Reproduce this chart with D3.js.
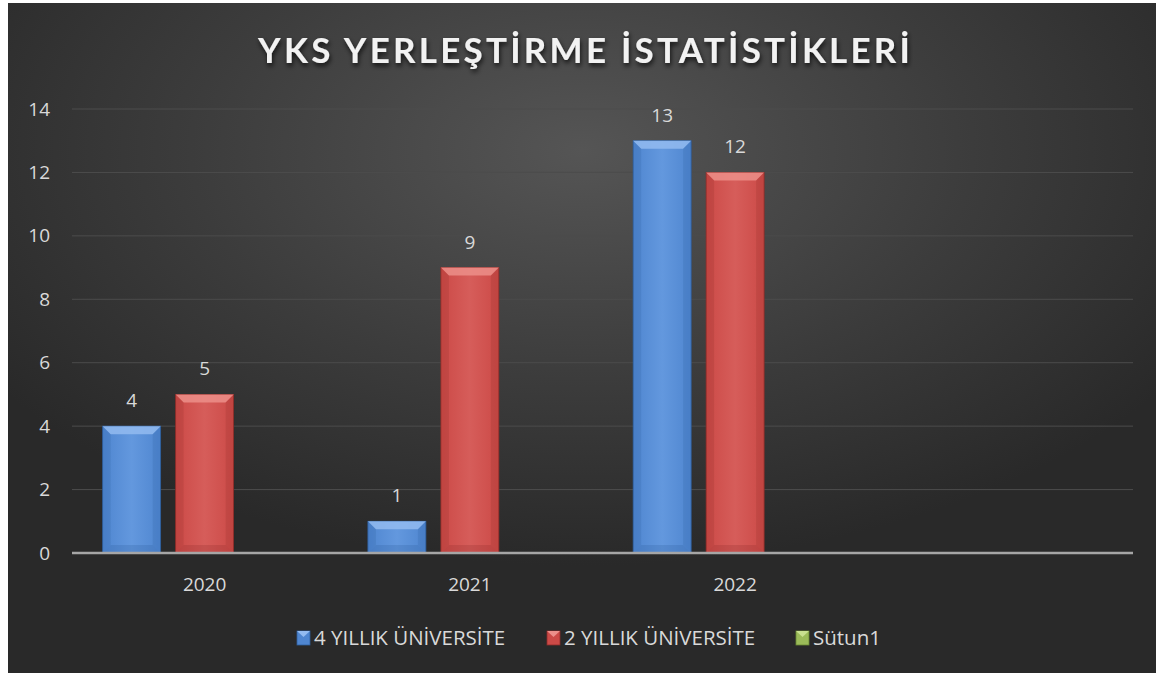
<!DOCTYPE html>
<html>
<head>
<meta charset="utf-8">
<script src="https://cdn.jsdelivr.net/npm/d3@7"></script>
<style>
  html, body { margin: 0; padding: 0; background: #ffffff; }
  svg { display: block; }
</style>
</head>
<body>
<svg id="chartSvg" width="1157" height="673"></svg>
<script>
  // chart data
  var categories = ['2020', '2021', '2022', ''];
  var seriesNames = ['4 YILLIK ÜNİVERSİTE', '2 YILLIK ÜNİVERSİTE', 'Sütun1'];
  var fourYear = [4, 1, 13, null];
  var twoYear = [5, 9, 12, null];
  var sutun1 = [null, null, null, null];
  var yTicks = [0, 2, 4, 6, 8, 10, 12, 14];
  var title = 'YKS YERLEŞTİRME İSTATİSTİKLERİ';

  var width = 1157;
  var height = 673;
  var margin = { top: 109, bottom: 120, right: 24, left: 72 };

  // colours for each series: main, light (top bevel), dark (edges)
  var colors = [
    { main: '#4f86d0', light: '#93bbf0', dark: '#2f5f9e', mid: '#6398de' },
    { main: '#cc4a47', light: '#ec8f8a', dark: '#8f2c2a', mid: '#d65d5a' },
    { main: '#9bbb59', light: '#c8e08f', dark: '#6a8a32', mid: '#aacb66' }
  ];
  var fontFam = 'Open Sans, sans-serif';
  var labelColor = '#d9d9d9';

  var svg = d3.select('#chartSvg');
  var defs = svg.append('defs');

  // background gradient
  var bg = defs.append('radialGradient')
      .attr('id', 'bgGrad')
      .attr('cx', '50%').attr('cy', '22%').attr('r', '62%');
  bg.append('stop').attr('offset', '0%').attr('stop-color', '#555555');
  bg.append('stop').attr('offset', '55%').attr('stop-color', '#3c3c3c');
  bg.append('stop').attr('offset', '100%').attr('stop-color', '#292929');

  var shadow = defs.append('filter').attr('id', 'titleShadow')
      .attr('x', '-5%').attr('y', '-30%').attr('width', '110%').attr('height', '170%');
  shadow.append('feDropShadow')
      .attr('dx', 1).attr('dy', 3).attr('stdDeviation', 2.5)
      .attr('flood-color', '#000').attr('flood-opacity', 0.75);

  colors.forEach(function(c, i) {
    var g = defs.append('linearGradient').attr('id', 'barGrad' + i)
        .attr('x1', '0%').attr('x2', '100%').attr('y1', '0%').attr('y2', '0%');
    g.append('stop').attr('offset', '0%').attr('stop-color', c.main);
    g.append('stop').attr('offset', '50%').attr('stop-color', c.mid);
    g.append('stop').attr('offset', '100%').attr('stop-color', c.main);
  });

  svg.append('rect')
      .attr('x', 8).attr('y', 3)
      .attr('width', width - 9).attr('height', height - 3)
      .attr('fill', 'url(#bgGrad)');

  // title
  svg.append('text')
      .attr('x', 584).attr('y', 63)
      .attr('text-anchor', 'middle')
      .attr('font-family', 'Lato, sans-serif')
      .attr('font-weight', 'bold')
      .attr('font-size', 35)
      .attr('textLength', 652)
      .attr('lengthAdjust', 'spacing')
      .attr('fill', '#f2f2f2')
      .attr('filter', 'url(#titleShadow)')
      .text(title);

  var x0 = d3.scaleBand()
      .domain(categories)
      .range([margin.left, width - margin.right]);

  var x1 = d3.scaleBand()
      .domain(seriesNames)
      .range([0, x0.bandwidth()])
      .paddingInner(0.2055)
      .paddingOuter(0.42);

  var yScale = d3.scaleLinear()
      .domain([0, 14])
      .range([height - margin.bottom, margin.top]);

  // gridlines
  svg.append('g')
      .selectAll('line')
      .data(yTicks.slice(1))
      .enter()
      .append('line')
      .attr('x1', margin.left).attr('x2', width - margin.right)
      .attr('y1', d => yScale(d)).attr('y2', d => yScale(d))
      .attr('stroke', '#4c4c4c')
      .attr('stroke-width', 1);

  // y axis labels
  var yAxis = d3.axisLeft(yScale).tickValues(yTicks).tickSize(0).tickPadding(22);
  var yG = svg.append('g')
      .attr('transform', 'translate(' + margin.left + ',0)')
      .call(yAxis);
  yG.select('.domain').remove();
  yG.selectAll('text')
      .attr('font-family', fontFam)
      .attr('font-size', 19)
      .attr('fill', labelColor);

  var allSeries = [fourYear, twoYear, sutun1];
  var barData = [];
  allSeries.forEach(function(vals, si) {
    vals.forEach(function(v, ci) {
      if (v !== null) barData.push({ cat: categories[ci], s: si, value: v });
    });
  });

  var bev = 8;
  var bars = svg.append('g').selectAll('g')
      .data(barData)
      .enter()
      .append('g')
      .attr('transform', d => 'translate(' + (x0(d.cat) + x1(seriesNames[d.s])) + ',0)');

  var bw = x1.bandwidth();

  bars.append('rect')
      .attr('x', 0)
      .attr('y', d => yScale(d.value))
      .attr('width', bw)
      .attr('height', d => yScale(0) - yScale(d.value))
      .attr('fill', d => 'url(#barGrad' + d.s + ')')
      .attr('stroke', d => colors[d.s].dark)
      .attr('stroke-width', 0.8);

  // top bevel
  bars.append('path')
      .attr('d', function(d) {
        var t = yScale(d.value);
        var b = Math.min(bev, (yScale(0) - t) / 2);
        return 'M0,' + t + 'L' + bw + ',' + t + 'L' + (bw - b) + ',' + (t + b) + 'L' + b + ',' + (t + b) + 'Z';
      })
      .attr('fill', d => colors[d.s].light)
      .attr('opacity', 0.85);

  // side bevels
  bars.append('path')
      .attr('d', function(d) {
        var t = yScale(d.value), bot = yScale(0);
        var b = Math.min(bev, (bot - t) / 2);
        return 'M0,' + t + 'L' + b + ',' + (t + b) + 'L' + b + ',' + (bot - b) + 'L0,' + bot + 'Z' +
               'M' + bw + ',' + t + 'L' + (bw - b) + ',' + (t + b) + 'L' + (bw - b) + ',' + (bot - b) + 'L' + bw + ',' + bot + 'Z';
      })
      .attr('fill', d => colors[d.s].dark)
      .attr('opacity', 0.2);

  // bottom bevel
  bars.append('path')
      .attr('d', function(d) {
        var t = yScale(d.value), bot = yScale(0);
        var b = Math.min(bev, (bot - t) / 2);
        return 'M0,' + bot + 'L' + bw + ',' + bot + 'L' + (bw - b) + ',' + (bot - b) + 'L' + b + ',' + (bot - b) + 'Z';
      })
      .attr('fill', d => colors[d.s].dark)
      .attr('opacity', 0.25);

  // data labels
  bars.append('text')
      .attr('x', bw / 2)
      .attr('y', d => yScale(d.value) - 19)
      .attr('text-anchor', 'middle')
      .attr('font-family', fontFam)
      .attr('font-size', 19)
      .attr('fill', labelColor)
      .text(d => d.value);

  // baseline
  svg.append('line')
      .attr('x1', margin.left).attr('x2', width - margin.right)
      .attr('y1', yScale(0)).attr('y2', yScale(0))
      .attr('stroke', '#a6a6a6')
      .attr('stroke-width', 2.5);

  // x axis labels
  var xAxis = d3.axisBottom(x0).tickSize(0).tickPadding(25);
  var xG = svg.append('g')
      .attr('transform', 'translate(0,' + yScale(0) + ')')
      .call(xAxis);
  xG.select('.domain').remove();
  xG.selectAll('text')
      .attr('font-family', fontFam)
      .attr('font-size', 19)
      .attr('fill', labelColor);

  // legend
  var legendX = [297, 547, 796];
  var legend = svg.append('g').selectAll('g')
      .data(seriesNames)
      .enter()
      .append('g')
      .attr('transform', (d, i) => 'translate(' + legendX[i] + ',631)');

  legend.append('rect')
      .attr('width', 13).attr('height', 14)
      .attr('fill', (d, i) => colors[i].main)
      .attr('stroke', (d, i) => colors[i].dark)
      .attr('stroke-width', 0.8);
  legend.append('path')
      .attr('d', 'M0,0L13,0L6.5,6Z')
      .attr('fill', (d, i) => colors[i].light);

  legend.append('text')
      .attr('x', 17)
      .attr('y', 14)
      .attr('font-family', fontFam)
      .attr('font-size', 20.5)
      .attr('fill', labelColor)
      .text(d => d);
</script>
</body>
</html>
